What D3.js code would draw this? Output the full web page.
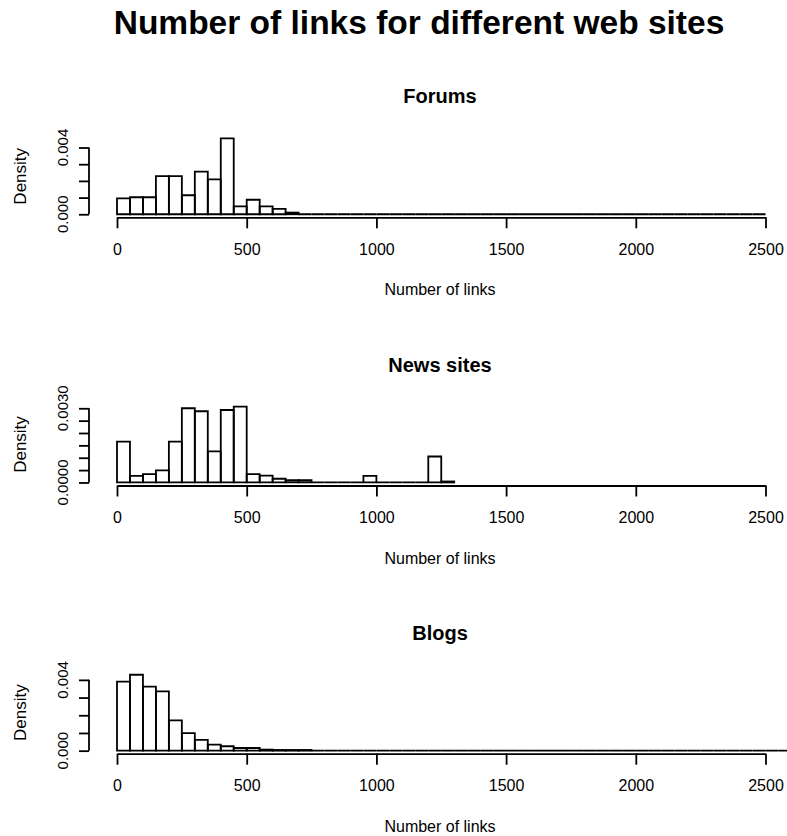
<!DOCTYPE html>
<html>
<head>
<meta charset="utf-8">
<script src="https://cdnjs.cloudflare.com/ajax/libs/d3/7.8.5/d3.min.js"></script>
<style>
body { margin: 0; background: #fff; }
text { font-family: "Liberation Sans", Arial, sans-serif; fill: #000; }
</style>
</head>
<body>
<svg id="chart" width="787" height="836"></svg>
<script>
// histogram densities, bins of 50 links starting at 0
var binWidth = 50;
var panelTitles = ["Forums", "News sites", "Blogs"];

var forumsDensity = [0.00095, 0.00102, 0.00102, 0.00229, 0.00229, 0.00114, 0.00256, 0.00209, 0.00455, 0.00047,
    0.00087, 0.00047, 0.00032, 0.00010, 0, 0, 0, 0, 0, 0,
    0, 0, 0, 0, 0, 0, 0, 0, 0, 0,
    0, 0, 0, 0, 0, 0, 0, 0, 0, 0,
    0, 0, 0, 0, 0, 0, 0, 0, 0, 0];

var newsDensity = [0.00165, 0.00027, 0.00034, 0.00049, 0.00165, 0.00300, 0.00288, 0.00126, 0.00293, 0.00307,
    0.00034, 0.00028, 0.00015, 0.00009, 0.00009, 0, 0, 0, 0, 0.00027,
    0, 0, 0, 0, 0.00105, 0.00004];

var blogsDensity = [0.00390, 0.00429, 0.00362, 0.00335, 0.00171, 0.00099, 0.00061, 0.00034, 0.00025, 0.00015,
    0.00015, 0.00006, 0.00004, 0.00004, 0.00004, 0, 0, 0, 0, 0,
    0, 0, 0, 0, 0, 0, 0, 0, 0, 0,
    0, 0, 0, 0, 0, 0, 0, 0, 0, 0,
    0, 0, 0, 0, 0, 0, 0, 0, 0, 0,
    0, 0, 0, 0];

var xTicks = [0, 500, 1000, 1500, 2000, 2500];
var forumsYTicks = [0, 0.001, 0.002, 0.003, 0.004];
var forumsYLabels = ["0.000", "", "", "", "0.004"];
var newsYTicks = [0, 0.0005, 0.001, 0.0015, 0.002, 0.0025, 0.003];
var newsYLabels = ["0.0000", "", "", "", "", "", "0.0030"];
var blogsYTicks = [0, 0.001, 0.002, 0.003, 0.004];
var blogsYLabels = ["0.000", "", "", "", "0.004"];

var panels = [
    {title: panelTitles[0], dens: forumsDensity, ticks: forumsYTicks, labels: forumsYLabels},
    {title: panelTitles[1], dens: newsDensity, ticks: newsYTicks, labels: newsYLabels},
    {title: panelTitles[2], dens: blogsDensity, ticks: blogsYTicks, labels: blogsYLabels}
];

var svg = d3.select("#chart");
var plotLeft = 89, plotH = 82, firstBottom = 217.3, panelStep = 268.2;
var lw = 1.8;

var x = d3.scaleLinear().domain([0, 2500]).range([117, 765.5]);

svg.append("text")
    .attr("x", 419).attr("y", 34)
    .attr("text-anchor", "middle")
    .style("font-size", "33.5px").style("font-weight", "bold")
    .text("Number of links for different web sites");

panels.forEach(function(p, i) {
    var bottom = firstBottom + panelStep * i;
    var maxD = d3.max(p.dens);
    var y = d3.scaleLinear()
        .domain([-0.04 * maxD, 1.04 * maxD])
        .range([bottom, bottom - plotH]);
    var g = svg.append("g");

    // bars (zero height bins still drawn as a line, like R)
    g.append("g")
        .selectAll("path")
        .data(p.dens)
        .enter()
        .append("path")
        .attr("d", function(d, j) {
            var x0 = x(j * binWidth), x1 = x((j + 1) * binWidth);
            return "M" + x0 + "," + y(0) + "V" + y(d) + "H" + x1 + "V" + y(0) + "Z";
        })
        .attr("fill", "none")
        .attr("stroke", "#000")
        .attr("stroke-width", lw);

    // x axis
    var xAxis = g.append("g")
        .attr("transform", "translate(0," + bottom + ")")
        .call(d3.axisBottom(x).tickValues(xTicks).tickSize(11).tickSizeOuter(0)
            .tickPadding(15).tickFormat(d3.format("d")));
    xAxis.select(".domain").attr("stroke-width", lw);
    xAxis.selectAll(".tick line").attr("stroke-width", lw);
    xAxis.selectAll("text").style("font-size", "16px").attr("fill", "#000")
        .style("font-family", "'Liberation Sans', Arial, sans-serif");

    // y axis, line only between first and last tick
    var yAxis = g.append("g")
        .attr("transform", "translate(" + plotLeft + ",0)")
        .call(d3.axisLeft(y).tickValues(p.ticks).tickSize(10).tickFormat(""));
    yAxis.select(".domain").remove();
    yAxis.selectAll(".tick line").attr("stroke-width", lw);
    yAxis.append("line")
        .attr("y1", y(p.ticks[0])).attr("y2", y(p.ticks[p.ticks.length - 1]))
        .attr("stroke", "#000").attr("stroke-width", lw);

    p.ticks.forEach(function(t, k) {
        if (!p.labels[k]) return;
        g.append("text")
            .attr("transform", "translate(68," + y(t) + ") rotate(-90)")
            .attr("text-anchor", "middle")
            .style("font-size", "15px")
            .text(p.labels[k]);
    });

    g.append("text")
        .attr("transform", "translate(26," + (bottom - plotH / 2) + ") rotate(-90)")
        .attr("text-anchor", "middle")
        .style("font-size", "17px")
        .text("Density");

    g.append("text")
        .attr("x", 440).attr("y", bottom - 114)
        .attr("text-anchor", "middle")
        .style("font-size", "20px").style("font-weight", "bold")
        .text(p.title);

    g.append("text")
        .attr("x", 440).attr("y", bottom + 78)
        .attr("text-anchor", "middle")
        .style("font-size", "16px")
        .text("Number of links");
});
</script>
</body>
</html>
